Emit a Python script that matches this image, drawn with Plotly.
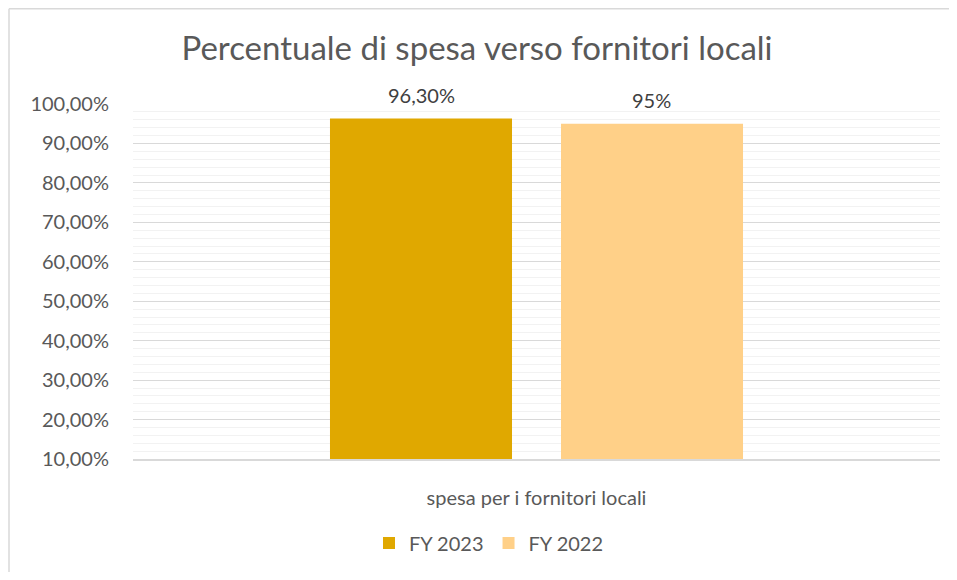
import plotly.graph_objects as go

categories = ["spesa per i fornitori locali"]
series_names = ["FY 2023", "FY 2022"]
values_2023 = [0.963]
values_2022 = [0.95]
labels_2023 = ["96,30%"]
labels_2022 = ["95%"]
colors = ["#E0A800", "#FFD088"]

tick_vals = [0.1, 0.2, 0.3, 0.4, 0.5, 0.6, 0.7, 0.8, 0.9, 1.0]

# page has an 8px body margin, so the figure is sized to fit the window
W, H = 941, 564
ml, mr, mt, mb = 125, 9, 96, 113
pw, ph = W - ml - mr, H - mt - mb
FONT = "Lato, Carlito, Calibri, sans-serif"

fig = go.Figure()
for name, vals, col in zip(series_names, [values_2023, values_2022], colors):
    fig.add_trace(go.Bar(x=categories, y=vals, name=name, marker=dict(color=col, line=dict(width=0)),
                         hoverinfo="skip"))

# data labels as annotations above bars
bar_offsets = [-115, 115]
for vals, labs, off in zip([values_2023, values_2022], [labels_2023, labels_2022], bar_offsets):
    for c, v, t in zip(categories, vals, labs):
        fig.add_annotation(x=c, y=v, text=t, showarrow=False, xshift=off, yshift=24,
                           font=dict(family=FONT, size=20, color="#404040"))

# outer chart border: only the left and top edges are inside the window
x_left = (1 - ml) / pw
y_top = ((H - mb) - 0.75) / ph
fig.add_shape(type="line", xref="paper", yref="paper", x0=x_left, x1=x_left,
              y0=-(H - (H - mb)) / ph, y1=y_top, line=dict(color="#D9D9D9", width=1.5), layer="below")
fig.add_shape(type="line", xref="paper", yref="paper", x0=x_left, x1=(W - ml) / pw,
              y0=y_top, y1=y_top, line=dict(color="#D9D9D9", width=1.5), layer="below")

fig.update_layout(
    width=W, height=H,
    margin=dict(l=ml, r=mr, t=mt, b=mb, autoexpand=False),
    paper_bgcolor="white", plot_bgcolor="white",
    separators=",.",
    barmode="group", bargap=0.4275, bargroupgap=0.212,
    font=dict(family=FONT, color="#595959"),
    title=dict(text="Percentuale di spesa verso fornitori locali", x=469 / W, xanchor="center",
               y=1 - 40 / H, yanchor="middle", yref="container",
               font=dict(size=33, color="#595959")),
    showlegend=True,
    legend=dict(orientation="h", x=(481 - ml) / pw, xanchor="center", y=-(535 - (H - mb)) / ph,
                yanchor="middle", font=dict(size=20, color="#595959"), itemwidth=30,
                traceorder="normal"),
    xaxis=dict(showgrid=False, showline=True, linecolor="#D9D9D9", linewidth=1.5, ticks="",
               tickfont=dict(size=20, color="#595959"), ticklabelstandoff=20, fixedrange=True),
    yaxis=dict(range=[0.1, 1.0], tickvals=tick_vals, tickformat=".2%",
               showgrid=True, gridcolor="#D9D9D9", gridwidth=1,
               minor=dict(dtick=0.02, tick0=0, showgrid=True, gridcolor="#F2F2F2", gridwidth=1),
               showline=False, zeroline=False, ticks="",
               tickfont=dict(size=20, color="#595959"), ticklabelstandoff=23, fixedrange=True),
)

fig.write_html("out.html")
